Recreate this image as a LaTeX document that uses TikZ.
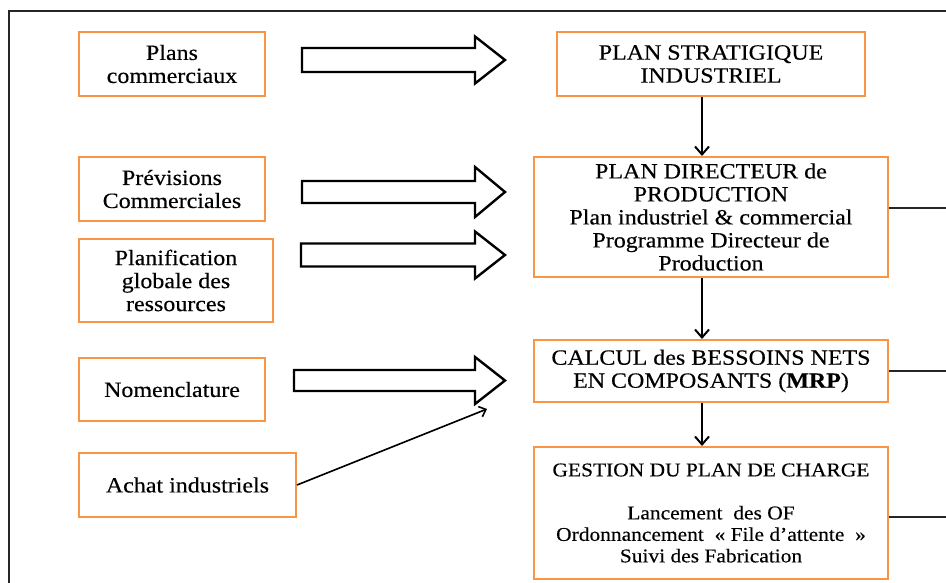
\documentclass[tikz,border=0pt]{standalone}
\usepackage{fontspec}
\setmainfont{Liberation Serif}[FakeStretch=1.1,FakeBold=0.3]
\usetikzlibrary{arrows.meta}
\definecolor{boxorange}{HTML}{F79646}
\definecolor{framegray}{HTML}{262626}
\newcommand\blockarr[4]{%
  \draw[barrow] (#1,{#2-#3}) -- (475,{#2-#3}) -- (475,{#2-#4}) -- (505,#2)
    -- (475,{#2+#4}) -- (475,{#2+#3}) -- (#1,{#2+#3}) -- cycle;}
\begin{document}
\begin{tikzpicture}[x=1pt,y=-1pt,
  box/.style={draw=boxorange, line width=2pt, fill=white, rectangle,
    inner sep=0pt, align=center, text=black,
    font=\fontsize{21.8pt}{23pt}\selectfont},
  smallbox/.style={box, font=\fontsize{19.5pt}{21.5pt}\selectfont},
  arr/.style={line width=2pt, draw=black,
    -{Straight Barb[length=8pt,width=14pt,line width=2pt]}},
  thinarr/.style={line width=1.6pt, draw=black,
    -{Straight Barb[length=6pt,width=11pt,line width=1.6pt]}},
  conn/.style={line width=2pt, draw=framegray},
  barrow/.style={line width=2.4pt, draw=black, fill=white, line join=miter},
  frame/.style={line width=2pt, draw=framegray}]
\useasboundingbox (0,0) rectangle (946,583);
\fill[white] (0,0) rectangle (946,583);
% frame
\draw[frame] (9,583) -- (9,11) -- (946,11);
% left boxes
\node[box, minimum width=186pt, minimum height=64pt] (pc) at (172,64) {Plans\\commerciaux};
\node[box, minimum width=186pt, minimum height=64pt] (prev) at (172,189) {Prévisions\\Commerciales};
\node[box, minimum width=194pt, minimum height=83pt] (plan) at (176,280.5) {Planification\\globale des\\ressources};
\node[box, minimum width=186pt, minimum height=63pt] (nom) at (172,389.5) {Nomenclature};
\node[box, minimum width=217pt, minimum height=64pt] (ach) at (187.5,485) {Achat industriels};
% right boxes
\node[box, minimum width=308pt, minimum height=64pt] (psi) at (711,64) {PLAN STRATIGIQUE\\INDUSTRIEL};
\node[box, minimum width=354pt, minimum height=120pt] (pdp) at (711,217) {PLAN DIRECTEUR de\\PRODUCTION\\Plan industriel \& commercial\\Programme Directeur de\\Production};
\node[box, minimum width=354pt, minimum height=62pt] (calc) at (711,371) {CALCUL des BESSOINS NETS\\EN COMPOSANTS (\textbf{MRP})};
\node[smallbox, minimum width=354pt, minimum height=132pt] (gest) at (711,513) {GESTION DU PLAN DE CHARGE\\[21.5pt]Lancement\ \ des OF\\Ordonnancement\ \ «\ File\ d'attente\ \ »\\Suivi des Fabrication};
% block arrows
\blockarr{302}{60}{12}{23.5}
\blockarr{302}{192}{11}{25}
\blockarr{301}{255}{11.5}{23.5}
\blockarr{294}{380.5}{10.5}{23.5}
% vertical arrows
\draw[arr] ([xshift=-9pt]psi.south) -- ([xshift=-9pt]psi.south |- pdp.north);
\draw[arr] ([xshift=-9pt]pdp.south) -- ([xshift=-9pt]pdp.south |- calc.north);
\draw[arr] ([xshift=-9pt]calc.south) -- ([xshift=-9pt]calc.south |- gest.north);
% achat arrow
\coordinate (achend) at (487,409);
\draw[thinarr] (ach.east) -- (achend);
% right lines
\coordinate (r1) at (946,208);
\coordinate (r2) at (946,371);
\coordinate (r3) at (946,517);
\draw[conn] ([yshift=9pt]pdp.east) -- (r1);
\draw[conn] (calc.east) -- (r2);
\draw[conn] ([yshift=-4pt]gest.east) -- (r3);
\end{tikzpicture}
\end{document}
